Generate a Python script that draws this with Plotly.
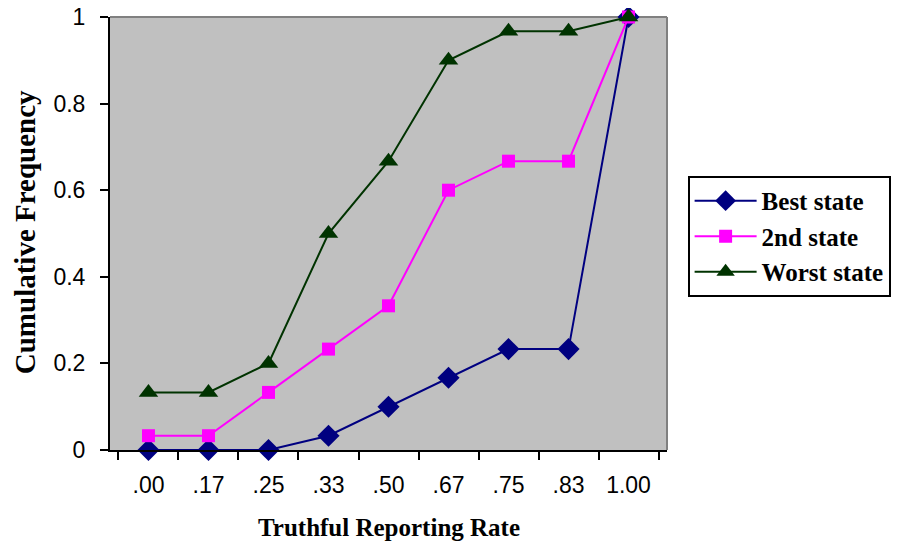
import plotly.graph_objects as go

categories = [".00", ".17", ".25", ".33", ".50", ".67", ".75", ".83", "1.00"]
best_state = [0, 0, 0, 0.033, 0.1, 0.167, 0.233, 0.233, 1.0]
second_state = [0.033, 0.033, 0.133, 0.233, 0.333, 0.6, 0.667, 0.667, 1.0]
worst_state = [0.133, 0.133, 0.2, 0.5, 0.667, 0.9, 0.967, 0.967, 1.0]
y_ticks = [0, 0.2, 0.4, 0.6, 0.8, 1]
y_tick_labels = ["0", "0.2", "0.4", "0.6", "0.8", "1"]

SERIF = "Liberation Serif, Times New Roman, serif"
SANS = "Liberation Sans, Arial, sans-serif"

fig = go.Figure()
fig.add_trace(go.Scatter(x=categories, y=best_state, name="<b>Best state</b>", mode="lines+markers",
                         line=dict(color="#000080", width=2),
                         marker=dict(symbol="diamond", size=17, color="#000080"),
                         cliponaxis=False))
fig.add_trace(go.Scatter(x=categories, y=second_state, name="<b>2nd state</b>", mode="lines+markers",
                         line=dict(color="#FF00FF", width=2),
                         marker=dict(symbol="square", size=13, color="#FF00FF"),
                         cliponaxis=False))
fig.add_trace(go.Scatter(x=categories, y=worst_state, name="<b>Worst state</b>", mode="lines+markers",
                         line=dict(color="#003300", width=2),
                         marker=dict(symbol="triangle-up", size=17, color="#003300"),
                         cliponaxis=False))

fig.update_layout(
    width=893, height=538,
    margin=dict(l=102, r=234, t=9, b=96, autoexpand=False),
    paper_bgcolor="white",
    plot_bgcolor="#C0C0C0",
    font=dict(family=SANS, size=23, color="black"),
    showlegend=True,
    legend=dict(
        x=1.037, y=0.633, xanchor="left", yanchor="top",
        bgcolor="white", bordercolor="black", borderwidth=2,
        font=dict(family=SERIF, size=25, color="black"),
        itemwidth=62,
    ),
    xaxis=dict(
        type="category", categoryorder="array", categoryarray=categories,
        automargin=False, ticklabeloverflow="allow",
        showgrid=False, showline=True, linecolor="black", linewidth=2,
        ticks="outside", tickson="boundaries", ticklen=8, tickwidth=2, tickcolor="black",
        zeroline=False, ticklabelstandoff=13,
        tickfont=dict(family=SANS, size=23),
    ),
    yaxis=dict(
        range=[0, 1], tickvals=y_ticks, ticktext=y_tick_labels,
        automargin=False, ticklabeloverflow="allow",
        showgrid=False, showline=True, linecolor="black", linewidth=2,
        ticks="outside", ticklen=8, tickwidth=2, tickcolor="black",
        zeroline=False, ticklabelstandoff=10,
        tickfont=dict(family=SANS, size=23),
    ),
    annotations=[
        dict(text="<b>Truthful Reporting Rate</b>", xref="paper", yref="paper",
             x=0.5, y=-0.178, xanchor="center", yanchor="middle", showarrow=False,
             font=dict(family=SERIF, size=25)),
        dict(text="<b>Cumulative Frequency</b>", xref="paper", yref="paper",
             x=-0.1526, y=0.503, xanchor="center", yanchor="middle", showarrow=False,
             textangle=-90, font=dict(family=SERIF, size=29)),
    ],
)

# gray border on top and right of plot area
fig.add_shape(type="line", xref="paper", yref="paper", x0=0, x1=1, y0=1, y1=1,
              line=dict(color="#808080", width=2), layer="below")
fig.add_shape(type="line", xref="paper", yref="paper", x0=1, x1=1, y0=0, y1=1,
              line=dict(color="#808080", width=2), layer="below")

fig.write_html("out.html")
